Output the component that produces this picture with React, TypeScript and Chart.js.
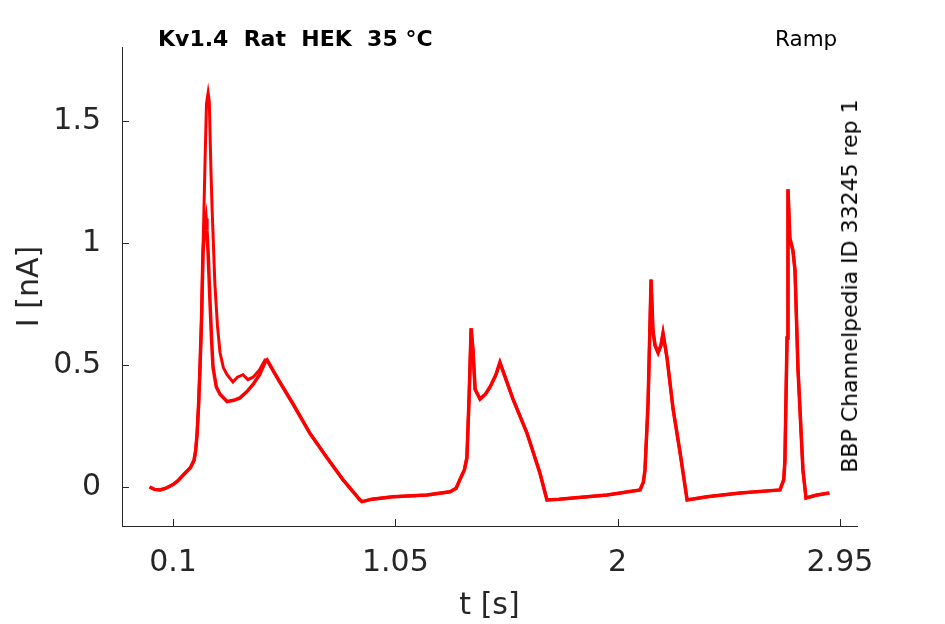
import { useEffect, useRef } from "react";
import { Chart, registerables, type Plugin } from "chart.js";

Chart.register(...registerables);

// time [s] / current [nA]
const START_T = [0.0, 0.02, 0.045, 0.07, 0.1, 0.12, 0.15, 0.175, 0.19, 0.197, 0.203, 0.209, 0.215, 0.222, 0.228];
const START_I = [0.0, -0.01, -0.012, -0.005, 0.01, 0.025, 0.055, 0.08, 0.11, 0.15, 0.22, 0.33, 0.48, 0.69, 0.96];

// sweep with the tall first peak
const PEAK_A_T = [0.237, 0.243, 0.25, 0.255, 0.262, 0.267, 0.279, 0.29, 0.301, 0.315, 0.331, 0.356, 0.375, 0.399, 0.42, 0.442, 0.47, 0.493];
const PEAK_A_I = [1.34, 1.57, 1.615, 1.58, 1.3, 1.14, 0.83, 0.66, 0.55, 0.49, 0.46, 0.43, 0.45, 0.46, 0.44, 0.45, 0.48, 0.52];

// sweep with the lower first peak
const PEAK_B_T = [0.235, 0.241, 0.245, 0.25, 0.258, 0.265, 0.271, 0.285, 0.301, 0.331, 0.36, 0.386, 0.415, 0.442, 0.47, 0.493];
const PEAK_B_I = [1.06, 1.1, 1.05, 0.96, 0.76, 0.6, 0.49, 0.41, 0.38, 0.35, 0.355, 0.365, 0.39, 0.42, 0.46, 0.51];

// shared rest of the protocol
const TAIL_T = [
  0.502, 0.55, 0.613, 0.685, 0.758, 0.826, 0.899, 0.908, 0.95, 1.04,
  1.185, 1.284, 1.31, 1.326, 1.345, 1.356, 1.365, 1.374, 1.382, 1.391,
  1.412, 1.435, 1.455, 1.48, 1.497, 1.553, 1.613, 1.668, 1.698, 1.75,
  1.809, 1.955, 2.096, 2.11, 2.117, 2.13, 2.143, 2.151, 2.16, 2.173,
  2.185, 2.194, 2.211, 2.237, 2.267, 2.297, 2.382, 2.523, 2.694, 2.71,
  2.715, 2.724, 2.728, 2.736, 2.749, 2.758, 2.771, 2.792, 2.805, 2.852,
  2.905,
];
const TAIL_I = [
  0.52, 0.44, 0.34, 0.22, 0.12, 0.03, -0.053, -0.06, -0.05, -0.04,
  -0.033, -0.02, -0.005, 0.03, 0.07, 0.12, 0.36, 0.65, 0.56, 0.4,
  0.36, 0.38, 0.41, 0.46, 0.51, 0.36, 0.22, 0.057, -0.053, -0.05,
  -0.045, -0.033, -0.012, 0.02, 0.07, 0.34, 0.85, 0.64, 0.58, 0.55,
  0.58, 0.63, 0.53, 0.32, 0.14, -0.053, -0.04, -0.025, -0.012, 0.03,
  0.11, 0.61, 1.22, 1.02, 0.97, 0.89, 0.48, 0.07, -0.045, -0.033,
  -0.025,
];

const X_TICKS = [0.1, 1.05, 2, 2.95];
const X_TICK_LABELS = ["0.1", "1.05", "2", "2.95"];
const Y_TICKS = [0, 0.5, 1, 1.5];
const Y_TICK_LABELS = ["0", "0.5", "1", "1.5"];

const AXIS = "#262626";
const RED = "#ff0000";

function sweep(peakT: number[], peakI: number[]) {
  const t = [...START_T, ...peakT, ...TAIL_T];
  const i = [...START_I, ...peakI, ...TAIL_I];
  return t.map((x, k) => ({ x, y: i[k] }));
}

// matlab style ticks pointing into the plot
const inwardTicks: Plugin<"line"> = {
  id: "inwardTicks",
  afterDraw(chart) {
    const { ctx, chartArea } = chart;
    const xs = chart.scales.x;
    const ys = chart.scales.y;
    ctx.save();
    ctx.strokeStyle = AXIS;
    ctx.lineWidth = 1;
    ctx.beginPath();
    for (const v of X_TICKS) {
      const px = Math.round(xs.getPixelForValue(v)) + 0.5;
      ctx.moveTo(px, chartArea.bottom);
      ctx.lineTo(px, chartArea.bottom - 7);
    }
    for (const v of Y_TICKS) {
      const py = Math.round(ys.getPixelForValue(v)) + 0.5;
      ctx.moveTo(chartArea.left, py);
      ctx.lineTo(chartArea.left + 7, py);
    }
    ctx.stroke();
    ctx.restore();
  },
};

export default function App() {
  const canvasRef = useRef<HTMLCanvasElement>(null);
  const chartRef = useRef<Chart<"line"> | null>(null);

  useEffect(() => {
    if (!canvasRef.current) return;
    Chart.defaults.font.family = "DejaVu Sans";
    Chart.defaults.color = AXIS;

    chartRef.current = new Chart(canvasRef.current, {
      type: "line",
      data: {
        datasets: [
          { data: sweep(PEAK_B_T, PEAK_B_I), borderColor: RED, borderWidth: 3.5, pointRadius: 0, tension: 0 },
          { data: sweep(PEAK_A_T, PEAK_A_I), borderColor: RED, borderWidth: 3, pointRadius: 0, tension: 0 },
        ],
      },
      options: {
        animation: false,
        responsive: false,
        layout: { padding: { top: 47, right: 88, left: 0, bottom: 0 } },
        plugins: { legend: { display: false }, tooltip: { enabled: false } },
        scales: {
          x: {
            type: "linear",
            min: -0.118,
            max: 3.023,
            grid: { display: false },
            border: { display: true, color: AXIS, width: 1 },
            afterBuildTicks: (s) => { s.ticks = X_TICKS.map((value) => ({ value })); },
            afterFit: (s) => { s.height = 98; },
            ticks: {
              padding: 11,
              font: { size: 30 },
              color: AXIS,
              maxRotation: 0,
              callback: (_v, idx) => X_TICK_LABELS[idx],
            },
            title: { display: true, text: "t [s]", font: { size: 30 }, color: AXIS, padding: { top: 0, bottom: 0 } },
          },
          y: {
            type: "linear",
            min: -0.16,
            max: 1.803,
            grid: { display: false },
            border: { display: true, color: AXIS, width: 1 },
            afterBuildTicks: (s) => { s.ticks = Y_TICKS.map((value) => ({ value })); },
            afterFit: (s) => { s.width = 122; },
            ticks: {
              padding: 13,
              font: { size: 30 },
              color: AXIS,
              callback: (_v, idx) => Y_TICK_LABELS[idx],
            },
            title: { display: true, text: "I [nA]", font: { size: 30 }, color: AXIS, padding: { top: 12, bottom: 0 } },
          },
        },
      },
      plugins: [inwardTicks],
    });

    return () => {
      chartRef.current?.destroy();
      chartRef.current = null;
    };
  }, []);

  const txt = { position: "absolute" as const, fontFamily: "DejaVu Sans", color: "#000", whiteSpace: "pre" as const };

  return (
    <div style={{ position: "absolute", left: 0, top: 0, width: 945, height: 624, background: "#fff" }}>
      <canvas ref={canvasRef} width={945} height={624} />
      <div style={{ ...txt, left: 158, top: 28, fontSize: 22, lineHeight: "22px", fontWeight: "bold" }}>Kv1.4  Rat  HEK  35 °C</div>
      <div style={{ ...txt, left: 775, top: 28, fontSize: 21.5, lineHeight: "22px" }}>Ramp</div>
      <div style={{ ...txt, left: 850, top: 286, fontSize: 22, lineHeight: "22px", transform: "translate(-50%, -50%) rotate(-90deg)" }}>
        BBP Channelpedia ID 33245 rep 1
      </div>
    </div>
  );
}
